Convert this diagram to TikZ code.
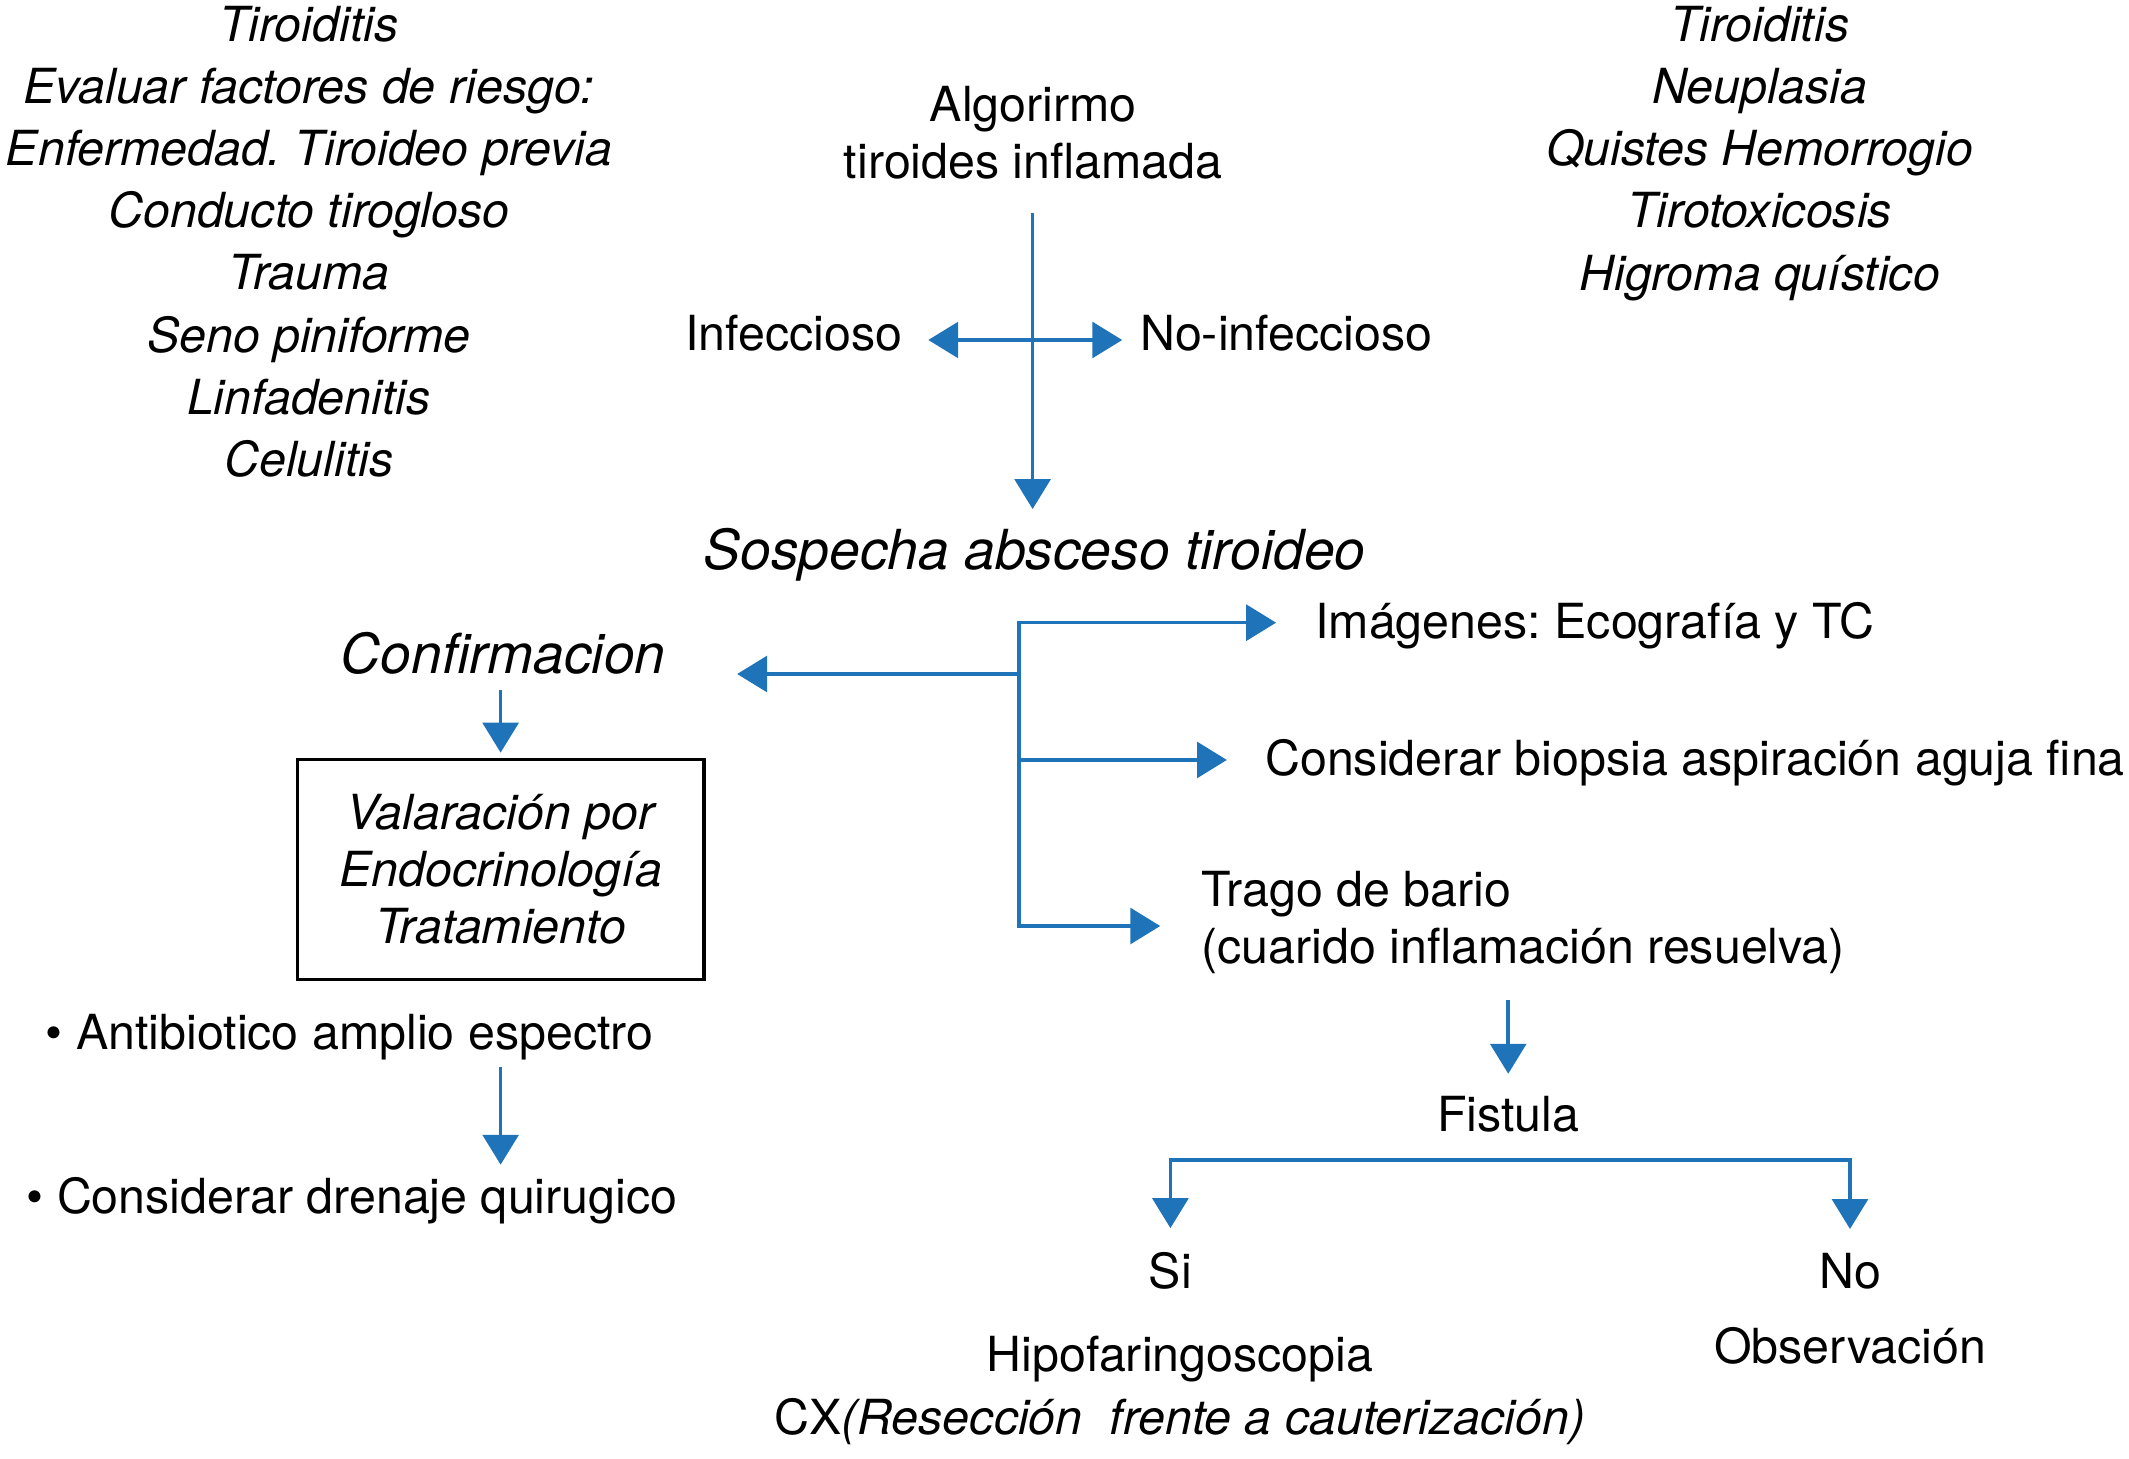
\documentclass[tikz,border=0pt]{standalone}
\usepackage{fontspec}
\setmainfont{TeX Gyre Heros}
\usepackage{tikz}
\usetikzlibrary{arrows.meta,positioning,calc}
\definecolor{arrowblue}{RGB}{30,115,185}
\frenchspacing

\begin{document}
\begin{tikzpicture}[
>={Triangle[length=0.66cm,width=0.79cm]}, x=0.03cm, y=-0.03cm,
text-node/.style = {inner sep=0pt, font=\fontsize{30.4}{39.1}\selectfont},
list-node/.style = {text-node, align=center, font=\fontsize{30.4}{39.1}\selectfont\itshape},
head-node/.style = {inner sep=0pt, font=\fontsize{34.7}{42}\selectfont\itshape},
box-node/.style = {rectangle, draw=black, line width=2pt, minimum width=8.985cm, minimum height=4.85cm, align=center, font=\fontsize{30.4}{35.8}\selectfont\itshape},
flow/.style = {draw=arrowblue, line width=2.2pt}
]
\useasboundingbox (0,0) rectangle (1568,1074.5);

% lists (base = last line)
\node [list-node, anchor=base] (causas-izq) at (227.5, 351) {Tiroiditis\\Evaluar factores de riesgo:\\Enfermedad. Tiroideo previa\\Conducto tirogloso\\Trauma\\Seno piniforme\\Linfadenitis\\Celulitis};
\node [list-node, anchor=base] (causas-der) at (1296, 213.7) {Tiroiditis\\Neuplasia\\Quistes Hemorrogio\\Tirotoxicosis\\Higroma quístico};
\node [text-node, align=center, anchor=base, font=\fontsize{30.4}{35.6}\selectfont] (algoritmo) at (761, 131.3) {Algorirmo\\tiroides inflamada};

\node [text-node, anchor=base east] (infeccioso) at (664.7, 258) {Infeccioso};
\node [text-node, anchor=base west] (no-infeccioso) at (839.5, 258) {No-infeccioso};
\node [head-node, anchor=base] (sospecha) at (762, 419.5) {Sospecha absceso tiroideo};

% left column
\node [head-node, anchor=base] (confirmacion) at (370.5, 496) {Confirmacion};
\node [box-node] (valoracion) at (368.7, 640.3) {Valaración por\\Endocrinología\\Tratamiento};
\node [text-node, anchor=base west] (antibiotico) at (33.5, 773) {\textbullet\ Antibiotico amplio espectro};
\node [text-node, anchor=base west] (drenaje) at (19.4, 893.6) {\textbullet\ Considerar drenaje quirugico};

% right column
\node [text-node, anchor=base west] (imagenes) at (968.5, 470.1) {Imágenes: Ecografía y TC};
\node [text-node, anchor=base west] (biopsia) at (931.6, 570.8) {Considerar biopsia aspiración aguja fina};
\node [text-node, align=left, anchor=base west, font=\fontsize{30.4}{35.7}\selectfont] (trago) at (884.5, 709.5) {Trago de bario\\(cuarido inflamación resuelva)};
\node [text-node, anchor=base] (fistula) at (1110.8, 833) {Fistula};
\node [text-node, anchor=base] (si) at (862, 949) {Si};
\node [text-node, anchor=base] (no) at (1362.5, 949) {No};
\node [text-node, align=center, anchor=base, font=\fontsize{30.4}{39.9}\selectfont] (hipofaringo) at (869, 1056.7) {Hipofaringoscopia\\CX\textit{(Resección\ \ frente a cauterización)}};
\node [text-node, anchor=base] (observacion) at (1362.7, 1004.5) {Observación};

% branch points
\coordinate (cruce) at (760.5, 250.4);
\coordinate (rama-sup) at (750.5, 458.6);
\coordinate (rama-conf) at (750.5, 496.4);
\coordinate (rama-bio) at (750.5, 559.7);
\coordinate (rama-inf) at (750.5, 682);
\coordinate (fistula-bar) at (1110, 854.2);

% arrows
\draw[flow, ->, shorten <=0.74cm, shorten >=0.42cm] (algoritmo.south -| cruce) -- (sospecha.north -| cruce);
\draw[flow, <->, shorten <=0.57cm, shorten >=0.39cm] (infeccioso.east |- cruce) -- (no-infeccioso.west |- cruce);

\draw[flow, <->, shorten <=0.86cm, shorten >=0.9cm] (rama-sup -| imagenes.west) -- (rama-sup) -- (rama-inf) -- (rama-inf -| trago.west);
\draw[flow, ->, shorten >=1.58cm] (rama-conf) -- (rama-conf -| confirmacion.east);
\draw[flow, ->, shorten >=0.84cm] (rama-bio) -- (rama-bio -| biopsia.west);

\draw[flow, ->, shorten <=0.34cm, shorten >=0.12cm] (confirmacion.south -| valoracion.north) -- (valoracion.north);
\draw[flow, ->, shorten <=0.14cm, shorten >=0.27cm] (antibiotico.south -| valoracion.south) -- (drenaje.north -| valoracion.south);

\draw[flow, ->, shorten <=0.57cm, shorten >=0.48cm] (trago.south -| fistula.north) -- (fistula.north);
\draw[flow, <->, shorten <=0.53cm, shorten >=0.53cm] (si.north) |- (fistula-bar) -| (no.north);

\end{tikzpicture}
\end{document}
